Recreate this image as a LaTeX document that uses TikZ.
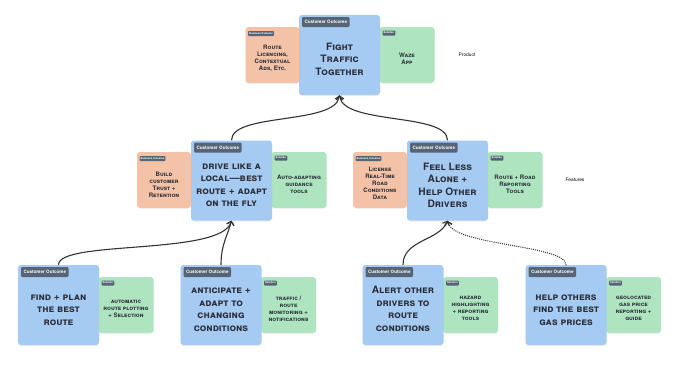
\documentclass[tikz,border=0pt]{standalone}
\usepackage{fontspec}
\setmainfont{TeX Gyre Heros}
\usetikzlibrary{arrows.meta,shadows}
\definecolor{cblue}{HTML}{A6CBF2}
\definecolor{corange}{HTML}{F4C2A6}
\definecolor{cgreen}{HTML}{AEE5C0}
\definecolor{ctag}{HTML}{566476}
\definecolor{ctext}{HTML}{2A2D38}
\definecolor{cline}{HTML}{333333}
\begin{document}
\begin{tikzpicture}[x=1pt,y=-1pt,
  outbox/.style={fill=cblue, rounded corners=3pt, minimum width=81pt, minimum height=80pt, inner sep=0pt, draw=none, drop shadow={opacity=0.12, shadow xshift=0pt, shadow yshift=-1pt}},
  bizbox/.style={fill=corange, rounded corners=3pt, minimum width=54pt, minimum height=56pt, inner sep=0pt, drop shadow={opacity=0.08, shadow xshift=0pt, shadow yshift=-1pt}},
  solbox/.style={fill=cgreen, rounded corners=3pt, minimum width=55pt, minimum height=56pt, inner sep=0pt, drop shadow={opacity=0.08, shadow xshift=0pt, shadow yshift=-1pt}},
  maintext/.style={text=ctext, font=\fontsize{10.2}{12.5}\selectfont\bfseries\scshape, align=center, inner sep=0pt},
  sidetext/.style={text=ctext, font=\fontsize{6.1}{7}\selectfont\bfseries\scshape, align=center, inner sep=0pt},
  cotag/.style={fill=ctag, text=white, rounded corners=1.2pt, font=\fontsize{4.6}{5}\selectfont\bfseries, inner xsep=2.5pt, inner ysep=0pt, minimum height=10pt, anchor=north west},
  smalltag/.style={fill=ctag, text=white, rounded corners=0.8pt, font=\fontsize{2.6}{3}\selectfont\bfseries, inner xsep=1.2pt, inner ysep=0pt, minimum height=5pt, anchor=north west},
  layerlabel/.style={font=\fontsize{4.8}{5}\selectfont, text=black, inner sep=0pt},
  conn/.style={draw=cline, line width=1.1pt, -{Straight Barb[length=3.5pt,width=7.5pt]}},
  dotconn/.style={conn, line cap=round, dash pattern=on 0pt off 2.1pt, line width=1.4pt}
]
\fill[white] (0,0) rectangle (680,365);
\useasboundingbox (0,0) rectangle (680,365);

% ---------- side boxes ----------
\node[bizbox] (tb) at (272.5,55) {};
\node[solbox] (ts) at (407,55) {};
\node[bizbox] (m1b) at (164,180) {};
\node[solbox] (m1s) at (299,180) {};
\node[bizbox] (m2b) at (380,180) {};
\node[solbox] (m2s) at (515,180) {};
\node[solbox] (b1s) at (126,305) {};
\node[solbox] (b2s) at (288.5,305) {};
\node[solbox] (b3s) at (470.5,305) {};
\node[solbox] (b4s) at (633.5,305) {};

% ---------- outcome boxes ----------
\node[outbox] (t) at (339.5,55) {};
\node[outbox] (m1) at (231.5,180.5) {};
\node[outbox] (m2) at (447.5,180.5) {};
\node[outbox] (b1) at (58.5,305) {};
\node[outbox] (b2) at (221,305) {};
\node[outbox] (b3) at (403,305) {};
\node[outbox] (b4) at (566,305) {};

% ---------- tags ----------
\foreach \n in {t,m1,m2,b1,b2,b3,b4}{
  \node[cotag] (\n-tag) at ([xshift=3pt,yshift=-2pt]\n.north west) {Customer Outcome};
}
\foreach \n in {tb,m1b,m2b}{
  \node[smalltag] (\n-tag) at ([xshift=2.5pt,yshift=-4pt]\n.north west) {Business Outcome};
}
\foreach \n in {ts,m1s,m2s,b1s,b2s,b3s,b4s}{
  \node[smalltag] (\n-tag) at ([xshift=3pt,yshift=-3.5pt]\n.north west) {Solution};
}

% ---------- texts ----------
\node[maintext] (t-txt) at ([yshift=-4pt]t.center) {Fight\\Traffic\\Together};
\node[sidetext] (tb-txt) at ([yshift=-3.5pt]tb.center) {Route\\Licencing,\\Contextual\\Ads, Etc.};
\node[sidetext] (ts-txt) at ([yshift=-4pt]ts.center) {Waze\\App};

\node[maintext] (m1-txt) at ([yshift=-5pt]m1.center) {drive like a\\local—best\\route + adapt\\on the fly};
\node[sidetext] (m1b-txt) at ([yshift=-4.5pt]m1b.center) {Build\\customer\\Trust +\\Retention};
\node[sidetext] (m1s-txt) at ([yshift=-4.5pt]m1s.center) {Auto-adapting\\guidance\\tools};

\node[maintext] (m2-txt) at ([yshift=-5pt]m2.center) {Feel Less\\Alone +\\Help Other\\Drivers};
\node[sidetext] (m2b-txt) at ([yshift=-3pt]m2b.center) {License\\Real-Time\\Road\\Conditions\\Data};
\node[sidetext] (m2s-txt) at ([yshift=-4pt]m2s.center) {Route + Road\\Reporting\\Tools};

\node[maintext] (b1-txt) at ([yshift=-5pt]b1.center) {find + plan\\the best\\route};
\node[sidetext] (b1s-txt) at ([yshift=-4pt]b1s.center) {automatic\\route plotting\\+ Selection};
\node[maintext] (b2-txt) at ([yshift=-4.5pt]b2.center) {anticipate +\\adapt to\\changing\\conditions};
\node[sidetext] (b2s-txt) at ([yshift=-3.5pt]b2s.center) {traffic /\\route\\monitoring +\\notifications};
\node[maintext] (b3-txt) at ([yshift=-4pt]b3.center) {Alert other\\drivers to\\route\\conditions};
\node[sidetext] (b3s-txt) at ([yshift=-3.5pt]b3s.center) {hazard\\highlighting\\+ reporting\\tools};
\node[maintext] (b4-txt) at ([yshift=-5pt]b4.center) {help others\\find the best\\gas prices};
\node[sidetext] (b4s-txt) at ([yshift=-3.5pt]b4s.center) {geolocated\\gas price\\reporting +\\guide};

% ---------- layer labels ----------
\node[layerlabel] (lbl-product) at (467,55) {Product};
\node[layerlabel] (lbl-features) at (575,180) {Features};

% ---------- connectors ----------
\draw[conn] (m1.north) .. controls +(0,-28) and +(-4,30) .. (t.south);
\draw[conn] (m2.north) .. controls +(0,-28) and +(4,30) .. (t.south);
\draw[conn] (b1.north) .. controls +(0,-25) and +(-10,35) .. (m1.south);
\draw[conn] (b2.north) .. controls +(0,-20) and +(-4,15) .. (m1.south);
\draw[conn] (b3.north) .. controls +(0,-25) and +(-8,20) .. (m2.south);
\draw[dotconn] (b4.north) .. controls +(0,-20) and +(5,25) .. (m2.south);
\end{tikzpicture}
\end{document}
